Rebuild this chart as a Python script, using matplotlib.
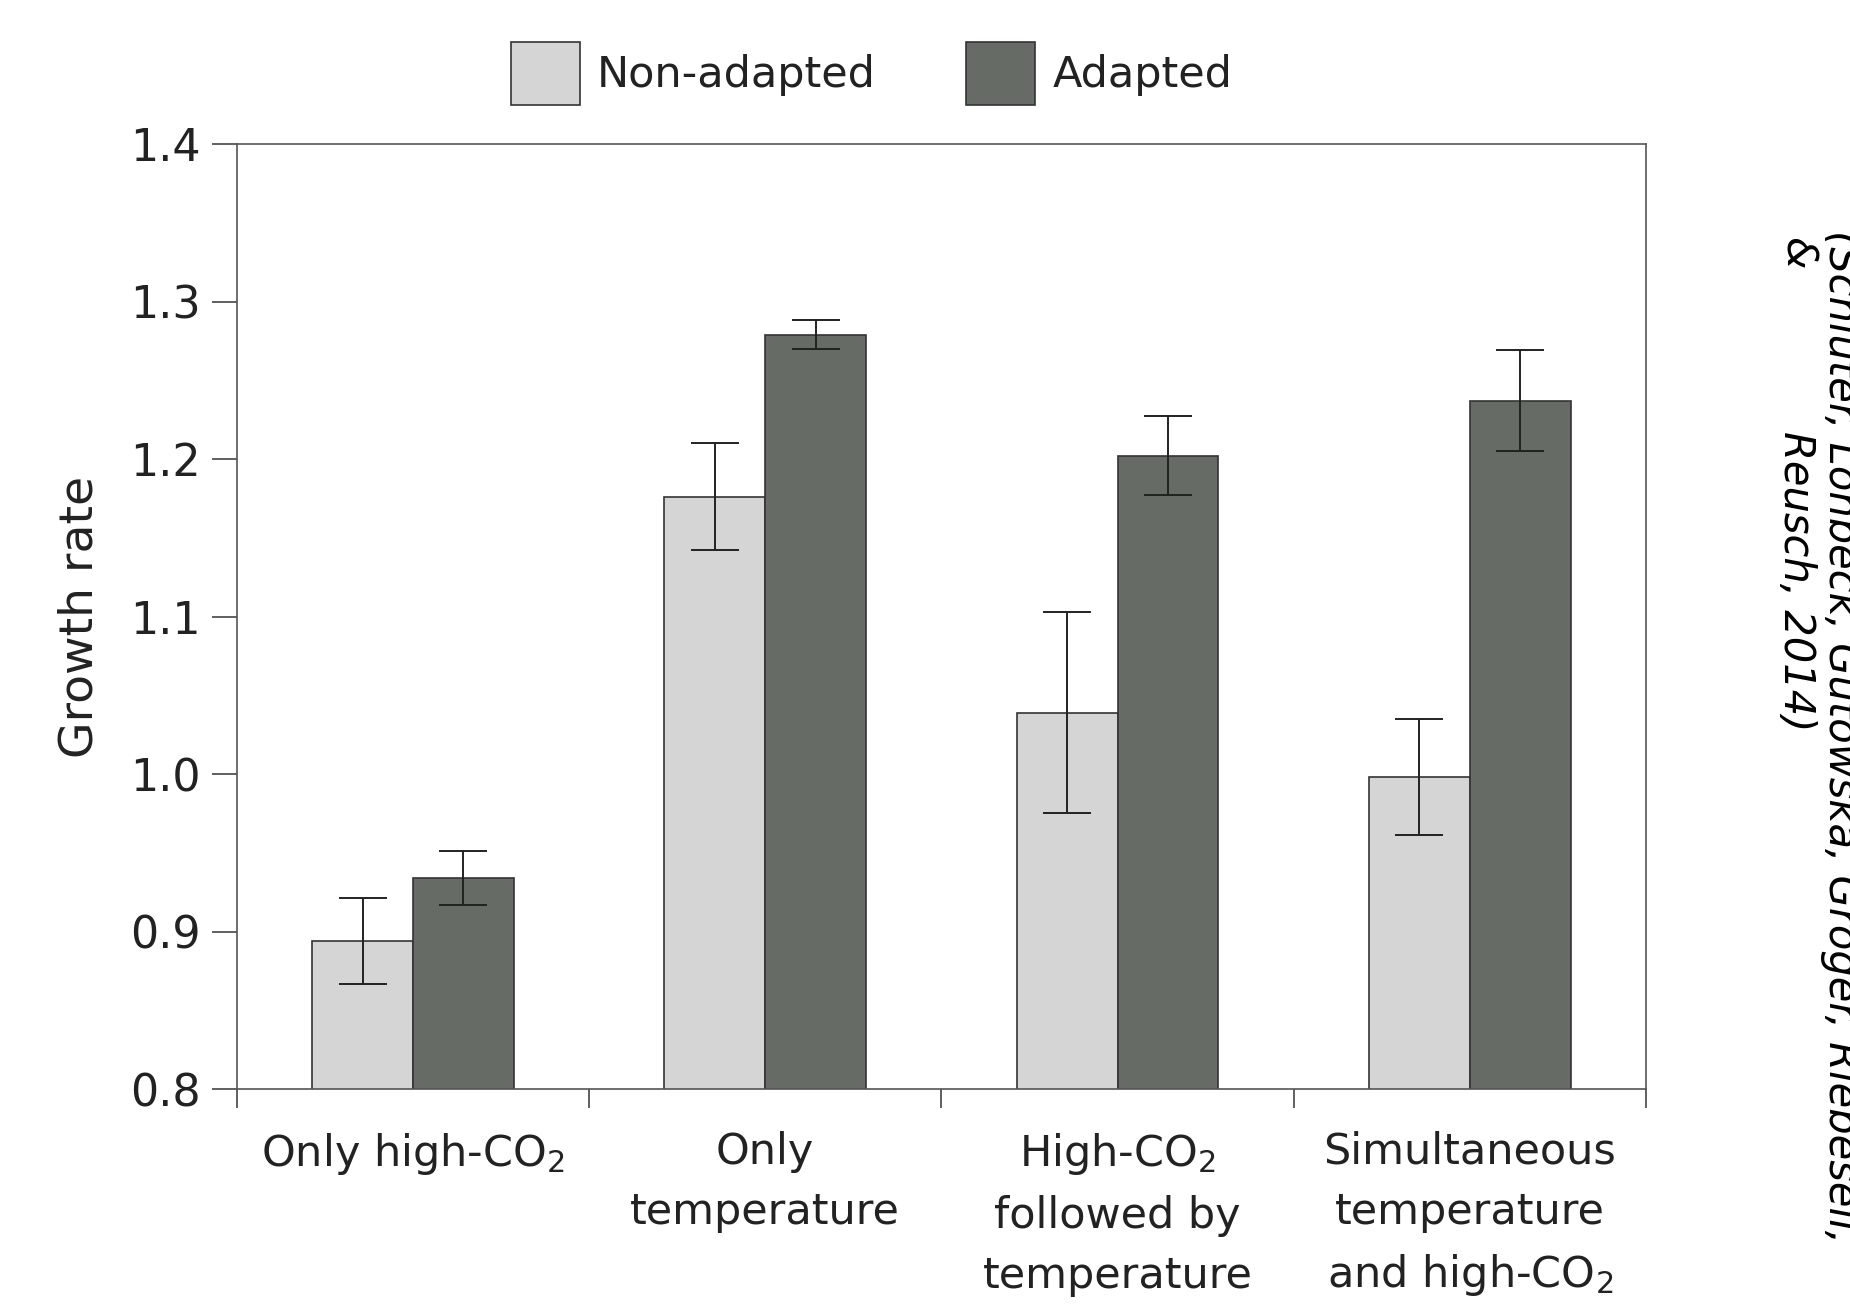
import numpy as np
import matplotlib
matplotlib.use("Agg")
import matplotlib.pyplot as plt

# values
groups = ["Only high-CO$_2$", "Only\ntemperature",
          "High-CO$_2$\nfollowed by\ntemperature",
          "Simultaneous\ntemperature\nand high-CO$_2$"]
non_adapted = [0.894, 1.176, 1.039, 0.998]
non_adapted_err = [0.027, 0.034, 0.064, 0.037]
adapted = [0.934, 1.279, 1.202, 1.237]
adapted_err = [0.017, 0.009, 0.025, 0.032]
yticks = [0.8, 0.9, 1.0, 1.1, 1.2, 1.3, 1.4]

plt.rcParams['font.family'] = ['DejaVu Sans']
plt.rcParams['mathtext.fontset'] = 'dejavusans'

fig = plt.figure(figsize=(18.5, 13.14), dpi=100)
ax = fig.add_axes([0.128, 0.1712, 0.7617, 0.7192])

x = np.arange(len(groups))
w = 0.286
c_light, c_dark = '#d5d5d5', '#676b66'
edge = '#333333'

ax.bar(x - w / 2, non_adapted, w, color=c_light, edgecolor=edge,
       lw=1.2, label='Non-adapted', zorder=2)
ax.bar(x + w / 2, adapted, w, color=c_dark, edgecolor=edge, lw=1.2,
       label='Adapted', zorder=2)
ax.errorbar(x - w / 2, non_adapted, yerr=non_adapted_err, fmt='none',
            ecolor='#222222', elinewidth=1.4, capsize=17, capthick=1.4, zorder=3)
ax.errorbar(x + w / 2, adapted, yerr=adapted_err, fmt='none',
            ecolor='#222222', elinewidth=1.4, capsize=17, capthick=1.4, zorder=3)

ax.set_xlim(-0.5, 3.5)
ax.set_ylim(0.8, 1.4)
ax.set_yticks(yticks)
ax.set_yticklabels([f"{v:.1f}" for v in yticks], fontsize=32, color='#222222')
ax.set_xticks(np.arange(-0.5, 4.0, 1.0))
ax.set_xticklabels([])
ax.set_xticks(x, minor=True)
ax.set_xticklabels(groups, minor=True, fontsize=31, linespacing=1.55,
                   color='#222222')
ax.tick_params(axis='x', which='minor', length=0, pad=30)
ax.tick_params(axis='x', which='major', length=14, width=1.2, color='#444444')
ax.tick_params(axis='y', length=18, width=1.2, color='#444444', pad=8)
for s in ax.spines.values():
    s.set_color('#555555')
    s.set_linewidth(1.2)

ax.set_ylabel('Growth rate', fontsize=34, labelpad=20, color='#222222')

fig.legend(loc='center', bbox_to_anchor=(0.471, 0.944), ncol=2,
           frameon=False, fontsize=31, handlelength=1.6, handleheight=1.9,
           columnspacing=2.1, handletextpad=0.4, labelcolor='#222222')

cite = dict(rotation=270, fontsize=30, style='italic')
fig.text(0.995, 0.825, "(Schl\u00fcter, Lohbeck, Gutowska, Gr\u00f6ger, Riebesell,",
         ha='center', va='top', **cite)
fig.text(0.971, 0.820, "&", ha='center', va='top', **cite)
fig.text(0.971, 0.672, "Reusch, 2014)", ha='center', va='top', **cite)

fig.savefig('out.png', dpi=100)
